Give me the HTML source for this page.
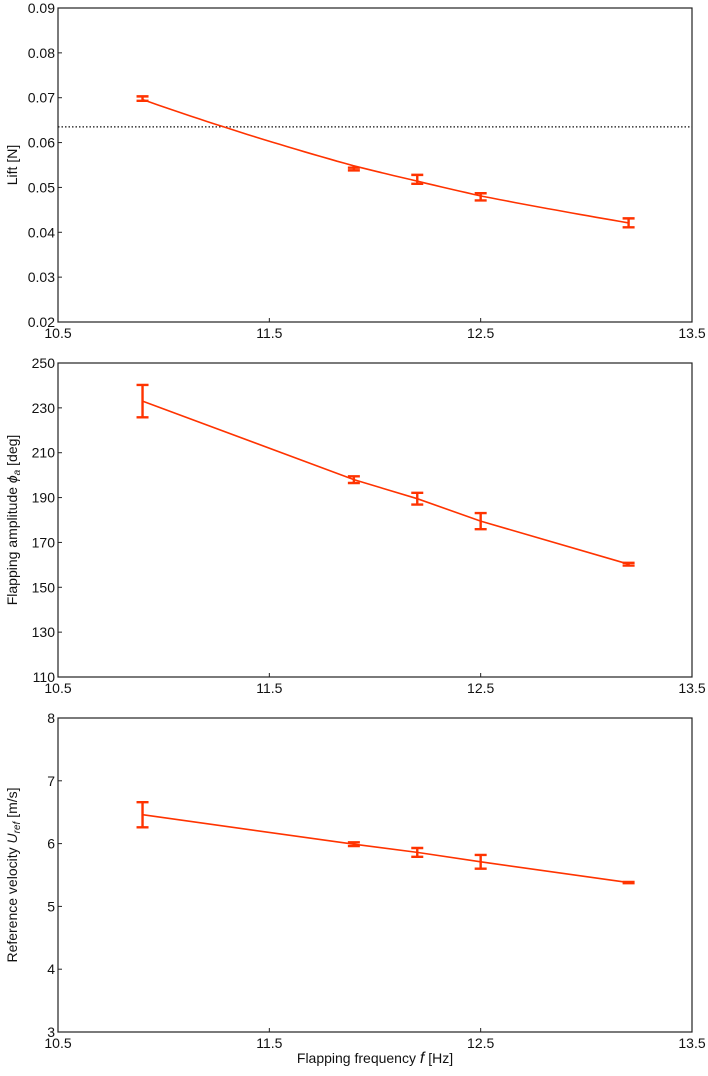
<!DOCTYPE html>
<html><head><meta charset="utf-8"><style>
body{margin:0;background:#fff;}
svg{display:block;font-family:"Liberation Sans",Arial,sans-serif;}
</style></head><body>
<svg id="chart" width="708" height="1076"></svg>
<script>
const freqs=[10.9,11.9,12.2,12.5,13.2];
const liftMean=[0.0698,0.0541,0.0518,0.0479,0.0421];
const liftErr=[0.0005,0.0003,0.0010,0.0008,0.0010];
const liftFit=[0.0696,0.0548,0.0514,0.0481,0.0421];
const liftRef=0.0635;
const ampMean=[233,198,189.5,179.5,160.3];
const ampErr=[7.2,1.5,2.6,3.6,0.6];
const velMean=[6.46,5.99,5.86,5.71,5.38];
const velErr=[0.2,0.03,0.07,0.11,0.01];
const xTicks=[10.5,11.5,12.5,13.5];
const liftTicks=[0.02,0.03,0.04,0.05,0.06,0.07,0.08,0.09];
const ampTicks=[110,130,150,170,190,210,230,250];
const velTicks=[3,4,5,6,7,8];
const NS='http://www.w3.org/2000/svg';
const svg=document.getElementById('chart');
const L=58,R=692,H=314;
const RED='#ff3300';
function el(tag,attrs,parent){const e=document.createElementNS(NS,tag);for(const k in attrs)e.setAttribute(k,attrs[k]);(parent||svg).appendChild(e);return e;}
function xs(v){return L+(v-10.5)/3*(R-L);}
function panel(name,top,ymin,ymax,ticks,fmt,title,mean,err,fit,ref,smooth){
  const g=el('g',{});
  
  
  const ys=v=>top+H-(v-ymin)/(ymax-ymin)*H;
  const box=el('rect',{x:L,y:top,width:R-L,height:H,fill:'none',stroke:'#222','stroke-width':1.2},g);
  
  
  ticks.forEach(t=>{
    const y=ys(t);
    const tk=el('line',{x1:L,x2:L+4,y1:y,y2:y,stroke:'#222','stroke-width':1},g);
    
    
    const tx=el('text',{x:L-3,y:y+5,'text-anchor':'end','font-size':14,fill:'#111'},g);
    tx.textContent=fmt(t);
    
    
  });
  xTicks.forEach(t=>{
    const x=xs(t);
    const tk=el('line',{x1:x,x2:x,y1:top+H,y2:top+H-4,stroke:'#222','stroke-width':1},g);
    
    
    const tx=el('text',{x:x,y:top+H+16,'text-anchor':'middle','font-size':14,fill:'#111'},g);
    tx.textContent=t.toFixed(1);
    
    
  });
  const yt=el('text',{x:0,y:0,'text-anchor':'middle','font-size':14,fill:'#111',transform:`translate(17,${top+H/2}) rotate(-90)`},g);
  yt.innerHTML=title;
  
  
  if(ref!=null){
    const rl=el('line',{x1:L,x2:R,y1:ys(ref),y2:ys(ref),stroke:'#111','stroke-width':1.2,'stroke-dasharray':'1.5,2'},g);
    
    
  }
  const lineVals=fit||mean;
  let d='';
  if(smooth){
    const N=60;
    for(let i=0;i<=N;i++){
      const f=freqs[0]+(freqs[4]-freqs[0])*i/N;
      // piecewise interpolation via monotone cubic-ish: use log-linear between fit points
      let k=0;while(k<freqs.length-2&&f>freqs[k+1])k++;
      const t=(f-freqs[k])/(freqs[k+1]-freqs[k]);
      const v=lineVals[k]*Math.pow(lineVals[k+1]/lineVals[k],t);
      d+=(i?'L':'M')+xs(f).toFixed(1)+','+ys(v).toFixed(1);
    }
  } else {
    freqs.forEach((f,i)=>{d+=(i?'L':'M')+xs(f)+','+ys(lineVals[i]);});
  }
  const p=el('path',{d:d,fill:'none',stroke:RED,'stroke-width':1.6},g);
  
  
  freqs.forEach((f,i)=>{
    const x=xs(f),y1=ys(mean[i]+err[i]),y2=ys(mean[i]-err[i]);
    const e=el('path',{d:`M${x},${y1}L${x},${y2}M${x-6},${y1}L${x+6},${y1}M${x-6},${y2}L${x+6},${y2}`,stroke:RED,'stroke-width':2.4,fill:'none'},g);
    
    
  });
}
panel('lift',8,0.02,0.09,liftTicks,t=>t.toFixed(2),'Lift [N]',liftMean,liftErr,liftFit,liftRef,true);
panel('amplitude',363,110,250,ampTicks,t=>String(t),'Flapping amplitude <tspan font-style="italic">ϕ</tspan><tspan font-style="italic" font-size="10" dy="3">a</tspan><tspan dy="-3"> [deg]</tspan>',ampMean,ampErr,null,null,false);
panel('velocity',718,3,8,velTicks,t=>String(t),'Reference velocity <tspan font-style="italic">U</tspan><tspan font-style="italic" font-size="10" dy="3">ref</tspan><tspan dy="-3"> [m/s]</tspan>',velMean,velErr,null,null,false);
const xl=el('text',{x:375,y:1063,'text-anchor':'middle','font-size':14,fill:'#111'});
xl.innerHTML='Flapping frequency <tspan font-style="italic" font-size="16">f</tspan> [Hz]';


</script>
</body></html>
